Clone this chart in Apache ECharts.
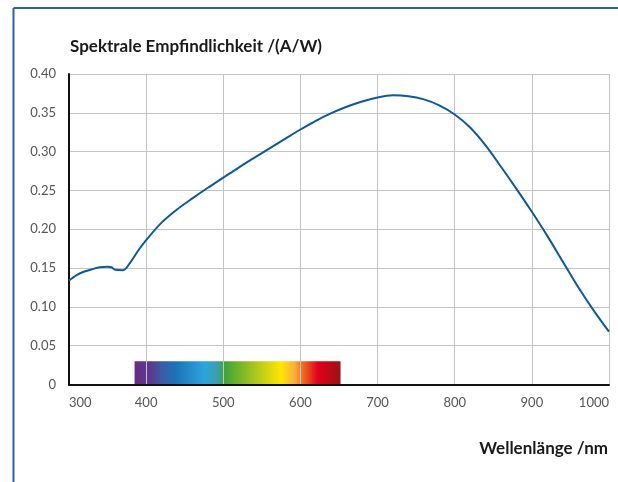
<!DOCTYPE html>
<html>
<head>
<meta charset="utf-8">
<script src="https://cdn.jsdelivr.net/npm/echarts@6/dist/echarts.min.js"></script>
<style>
html,body{margin:0;padding:0;background:#fff;}
#c{width:618px;height:482px;}
</style>
</head>
<body>
<div id="c"></div>
<script>
const wavelengths = [300,310,320,330,340,350,355,360,370,380,390,400,420,440,460,480,500,520,540,560,580,600,620,640,660,680,700,720,740,760,780,800,820,840,860,880,900,920,940,960,980,1000];
const responsivity = [0.134,0.141,0.1455,0.1485,0.151,0.1518,0.151,0.1478,0.1472,0.158,0.173,0.186,0.2085,0.2255,0.2398,0.2535,0.2665,0.2795,0.292,0.3043,0.3165,0.3285,0.3397,0.3495,0.3578,0.3645,0.3698,0.3726,0.3714,0.3673,0.3597,0.3478,0.331,0.308,0.2805,0.252,0.2225,0.1915,0.1585,0.1255,0.0955,0.068];
const spectrumRange = [385, 652];
const spectrumHeight = 0.03;
const spectrumColors = ['#6a2a86','#5b3a8e','#3d5aa5','#1c73b8','#2ea3dc','#3a9fb0','#3fa535','#a8c520','#ffe600','#f9b040','#ec6a1f','#e2001a','#9a1313'];
const spectrumStops = [0,0.08,0.13,0.2,0.34,0.4,0.44,0.58,0.71,0.775,0.82,0.89,1];
const xTicks = {min:300, max:1000, step:100};
const yTicks = {min:0, max:0.4, step:0.05};
const yTitle = 'Spektrale Empfindlichkeit /(A/W)';
const xTitle = 'Wellenlänge /nm';

const FONT = 'Lato';
const chart = echarts.init(document.getElementById('c'), null, {renderer:'canvas'});
const lineData = wavelengths.map((w,i)=>[w, responsivity[i]]);

chart.setOption({
  animation:false,
  backgroundColor:'#fff',
  grid:{left:69, right:9, top:74, bottom:97.5, containLabel:false},
  graphic:[
    {type:'line', shape:{x1:13.5, y1:8, x2:618, y2:8}, style:{stroke:'#2c63a2', lineWidth:2}, z:10},
    {type:'line', shape:{x1:13.5, y1:8, x2:13.5, y2:482}, style:{stroke:'#2c63a2', lineWidth:2}, z:10},
    {type:'text', x:70, y:46.5, style:{text:yTitle, font:'bold 17px Lato', fill:'#1a1a1a', textAlign:'left', textVerticalAlign:'middle'}, z:10},
    {type:'text', x:608, y:448.5, style:{text:xTitle, font:'bold 17px Lato', fill:'#1a1a1a', textAlign:'right', textVerticalAlign:'middle'}, z:10}
  ],
  xAxis:{
    type:'value', min:xTicks.min, max:xTicks.max, interval:xTicks.step, z:2,
    axisLine:{show:true, onZero:false, lineStyle:{color:'#111', width:2}},
    axisTick:{show:false},
    splitLine:{show:true, lineStyle:{color:'#c4c4c4', width:1}},
    axisLabel:{fontFamily:FONT, fontSize:13, color:'#555', margin:12, alignMinLabel:'left', alignMaxLabel:'right', formatter:v=>String(v)}
  },
  yAxis:{
    type:'value', min:yTicks.min, max:yTicks.max, interval:yTicks.step, z:2,
    axisLine:{show:true, lineStyle:{color:'#111', width:2}},
    axisTick:{show:false},
    splitLine:{show:true, lineStyle:{color:'#c4c4c4', width:1}},
    axisLabel:{fontFamily:FONT, fontSize:13, color:'#555', margin:13, formatter:v=> v===0 ? '0' : v.toFixed(2)}
  },
  series:[
    {
      type:'custom', z:1, silent:true,
      data:[[spectrumRange[0], spectrumRange[1], spectrumHeight]],
      renderItem:(params, api)=>{
        const p0 = api.coord([api.value(0), spectrumHeight]);
        const p1 = api.coord([api.value(1), 0]);
        return {
          type:'rect',
          shape:{x:p0[0], y:p0[1], width:p1[0]-p0[0], height:p1[1]-p0[1]},
          style:{fill:new echarts.graphic.LinearGradient(0,0,1,0, spectrumStops.map((s,i)=>({offset:s, color:spectrumColors[i]})))}
        };
      }
    },
    {
      type:'line', z:3, data:lineData, smooth:0.3, showSymbol:false,
      lineStyle:{color:'#0b5a9e', width:2}
    }
  ]
});
</script>
</body>
</html>
